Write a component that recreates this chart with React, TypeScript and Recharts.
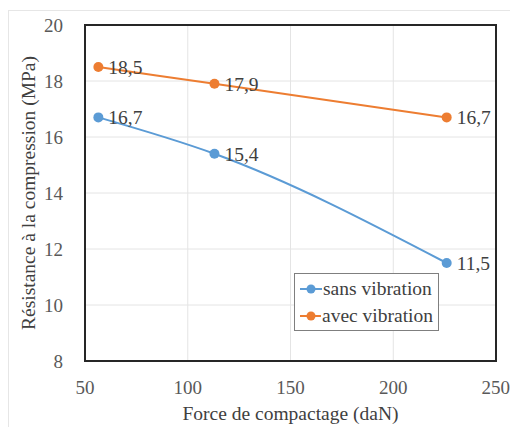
import {
  LineChart, Line, XAxis, YAxis, CartesianGrid, LabelList, ReferenceArea,
} from 'recharts'

const forces = [56.5, 113, 226]
const sansVibration = [16.7, 15.4, 11.5]
const avecVibration = [18.5, 17.9, 16.7]
const xTicks = [50, 100, 150, 200, 250]
const yTicks = [8, 10, 12, 14, 16, 18, 20]

const data = forces.map((f, i) => ({ force: f, sans: sansVibration[i], avec: avecVibration[i] }))

const FONT = 'Liberation Serif'
const BLUE = '#5b9bd5'
const ORANGE = '#ed7d31'
const TICK = { fill: '#595959', fontSize: 19, fontFamily: FONT }
const TITLE = { fill: '#404040', fontSize: 19.5, fontFamily: FONT }

const fmt = (v: unknown) => String(v).replace('.', ',')

function LegendBox() {
  const items = [
    { name: 'sans vibration', color: BLUE },
    { name: 'avec vibration', color: ORANGE },
  ]
  return (
    <div style={{
      position: 'absolute', left: 294, top: 273, width: 133,
      border: '1px solid #7f7f7f', background: '#fff', padding: '1px 5px 1px 5px',
      fontFamily: FONT, fontSize: 19.5, color: '#404040', lineHeight: '27px',
    }}>
      {items.map(it => (
        <div key={it.name} style={{ display: 'flex', alignItems: 'center', whiteSpace: 'nowrap' }}>
          <svg width={22} height={12} style={{ marginRight: 1 }}>
            <line x1={0} y1={6} x2={22} y2={6} stroke={it.color} strokeWidth={2} />
            <circle cx={11} cy={6} r={4.5} fill={it.color} />
          </svg>
          {it.name}
        </div>
      ))}
    </div>
  )
}

export default function App() {
  return (
    <div style={{ position: 'absolute', left: 0, top: 0, width: 510, height: 427, background: '#fff', overflow: 'hidden', fontFamily: FONT }}>
      <div style={{ position: 'absolute', left: 8, top: 10, width: 520, height: 430, borderLeft: '1px solid #e6e6e6', borderTop: '1px solid #e6e6e6' }} />
      <LineChart width={510} height={427} data={data} margin={{ top: 25, right: 14, bottom: 0, left: 22 }} style={{ fontFamily: FONT }}>
        <CartesianGrid stroke="#e4e4e4" strokeWidth={1} />
        <XAxis
          dataKey="force" type="number" domain={[50, 250]} ticks={xTicks}
          tick={TICK} tickLine={false} axisLine={false} tickMargin={14} height={66}
          label={{ value: 'Force de compactage (daN)', position: 'insideBottom', offset: 7, style: TITLE }}
        />
        <YAxis
          type="number" domain={[8, 20]} ticks={yTicks}
          tick={TICK} tickLine={false} axisLine={false} tickMargin={16} width={63}
          label={{ value: 'Résistance à la compression (MPa)', angle: -90, position: 'insideLeft', offset: 6, style: { ...TITLE, textAnchor: 'middle' } }}
        />
        <ReferenceArea x1={50} x2={250} y1={8} y2={20} fill="none" stroke="#262626" strokeWidth={2} />
        <Line dataKey="sans" name="sans vibration" type="monotone" stroke={BLUE} strokeWidth={2}
          dot={{ r: 5, fill: BLUE, stroke: BLUE, strokeWidth: 0 }} isAnimationActive={false}>
          <LabelList dataKey="sans" position="right" offset={10} formatter={fmt}
            style={{ fill: '#404040', fontSize: 19.5, fontFamily: FONT }} />
        </Line>
        <Line dataKey="avec" name="avec vibration" type="monotone" stroke={ORANGE} strokeWidth={2}
          dot={{ r: 5, fill: ORANGE, stroke: ORANGE, strokeWidth: 0 }} isAnimationActive={false}>
          <LabelList dataKey="avec" position="right" offset={10} formatter={fmt}
            style={{ fill: '#404040', fontSize: 19.5, fontFamily: FONT }} />
        </Line>
      </LineChart>
      <LegendBox />
    </div>
  )
}
